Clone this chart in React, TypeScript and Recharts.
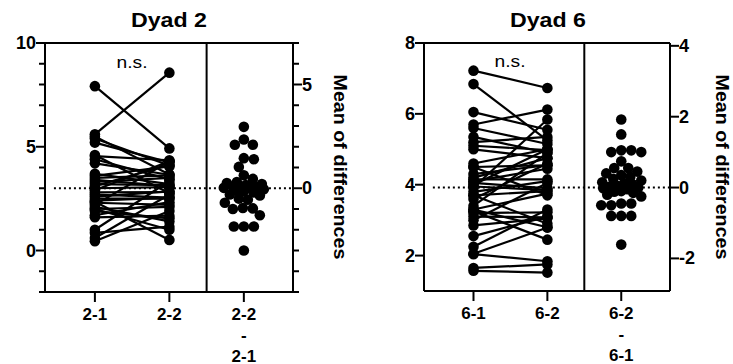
import React from 'react';
import { ComposedChart, Scatter, XAxis, YAxis, ReferenceLine } from 'recharts';

const FONT = '"Liberation Sans", Arial, Helvetica, sans-serif';

// Dyad 2 – paired values (2-1 -> 2-2) and the scatter of differences
const dyad2Before = [5.6, 7.92, 1.0, 0.6, 2.2, 0.45, 2.9, 3.1, 1.7, 3.6, 0.85, 2.6, 3.3, 2.4, 3.5, 2.0, 1.6, 3.0,
  2.8, 2.5, 3.2, 2.3, 2.7, 4.55, 3.4, 1.9, 3.7, 4.2, 2.1, 5.2, 4.4, 2.0, 5.4, 4.6, 5.5, 2.35];
const dyad2After = [8.57, 4.92, 3.35, 2.7, 4.3, 1.9, 4.3, 4.13, 2.33, 4.05, 1.15, 2.85, 3.5, 2.55, 3.62, 2.1, 1.68, 3.05,
  2.82, 2.5, 3.15, 2.2, 2.55, 4.35, 3.1, 1.55, 3.2, 3.65, 1.4, 4.25, 3.43, 1.0, 4.1, 2.76, 3.66, 0.51];
const dyad2Diffs = [2.96, 2.35, 2.1, 2.1, 1.45, 1.4, 1.03, 0.63, 0.45, 0.3, 0.25, 0.2, 0.15, 0.12, 0.1, 0.08, 0.05, 0.02,
  0, -0.05, -0.1, -0.15, -0.2, -0.3, -0.35, -0.5, -0.55, -0.7, -0.95, -0.97, -1.0, -1.3, -1.84, -1.84, -1.84, -3.0];
const dyad2Categories = [['2-1'], ['2-2'], ['2-2', '-', '2-1']];
const dyad2LeftTicks = [-2, -1, 0, 1, 2, 3, 4, 5, 6, 7, 8, 9, 10];
const dyad2LeftLabels = [0, 5, 10];
const dyad2RightTicks = [-5, -4, -3, -2, -1, 0, 1, 2, 3, 4, 5, 6, 7];
const dyad2RightLabels = [0, 5];

// Dyad 6
const dyad6Before = [7.22, 6.84, 3.92, 6.05, 5.7, 3.4, 3.0, 2.25, 4.0, 3.6, 2.05, 4.2, 2.55, 3.3, 4.6, 4.1, 3.8, 4.3,
  2.85, 5.2, 3.7, 1.65, 4.5, 3.2, 4.15, 3.1, 1.57, 3.95, 5.1, 4.05, 2.04, 5.0, 5.35, 5.6, 3.3, 3.25, 4.5, 3.7];
const dyad6After = [6.73, 5.25, 5.84, 5.55, 6.12, 4.9, 4.05, 3.3, 5.0, 4.6, 2.79, 4.75, 3.1, 3.75, 5.0, 4.45, 4.1, 4.55,
  3.05, 5.35, 3.82, 1.75, 4.55, 3.22, 4.15, 3.08, 1.52, 3.85, 4.98, 3.9, 1.84, 4.75, 4.9, 5.15, 2.8, 2.45, 3.7, 2.9];
const dyad6Diffs = [1.92, 1.5, 1.05, 1.05, 1.0, 1.0, 0.74, 0.55, 0.55, 0.45, 0.4, 0.35, 0.3, 0.25, 0.2, 0.15, 0.12, 0.1,
  0.05, 0.02, 0, -0.02, -0.05, -0.1, -0.12, -0.15, -0.2, -0.25, -0.45, -0.45, -0.5, -0.5, -0.8, -0.8, -0.8, -1.61];
const dyad6Categories = [['6-1'], ['6-2'], ['6-2', '-', '6-1']];
const dyad6LeftTicks = [2, 4, 6, 8];
const dyad6LeftLabels = [2, 4, 6, 8];
const dyad6RightTicks = [-2, 0, 2, 4];
const dyad6RightLabels = [-2, 0, 2, 4];

const X_DOMAIN: [number, number] = [0.33, 3.66];
const DOT_R = 5.3;
const SWARM_HALF = 20; // px either side of the column

// beeswarm: spread close values sideways, overlapping once the column is full
function swarm(values: number[], pxPerX: number, pxPerY: number) {
  const order = values.map((_, i) => i).sort((a, b) => values[b] - values[a]);
  const placed: { x: number; y: number }[] = [];
  const out: { x: number; y: number }[] = new Array(values.length);
  const minD = 2 * DOT_R - 1;
  for (const i of order) {
    const py = values[i] * pxPerY;
    let best = 0;
    let bestGap = -Infinity;
    for (let k = 0; k <= SWARM_HALF * 2; k++) {
      const cand = k === 0 ? 0 : k % 2 === 1 ? Math.ceil(k / 2) : -k / 2;
      let gap = Infinity;
      for (const p of placed) gap = Math.min(gap, Math.hypot(p.x - cand, p.y - py));
      if (gap >= minD) { best = cand; bestGap = gap; break; }
      if (gap > bestGap + 0.5) { bestGap = gap; best = cand; }
    }
    placed.push({ x: best, y: py });
    out[i] = { x: 3 + best / pxPerX, y: values[i] };
  }
  return out;
}

const Dot = (p: any) => <circle cx={p.cx} cy={p.cy} r={DOT_R} fill="#000" />;

interface PanelProps {
  width: number;
  plot: { left: number; right: number; top: number; bottom: number };
  leftDomain: [number, number];
  mean: number;
  leftTicks: number[];
  leftLabels: number[];
  rightTicks: number[];
  rightLabels: number[];
  before: number[];
  after: number[];
  diffs: number[];
  categories: string[][];
}

function Panel(props: PanelProps) {
  const { width, plot, leftDomain, mean, before, after, diffs, categories } = props;
  const height = 364;
  const rightDomain: [number, number] = [leftDomain[0] - mean, leftDomain[1] - mean];
  const pxPerX = (plot.right - plot.left) / (X_DOMAIN[1] - X_DOMAIN[0]);
  const pxPerY = (plot.bottom - plot.top) / (leftDomain[1] - leftDomain[0]);
  const swarmData = swarm(diffs, pxPerX, pxPerY);
  const axisLine = { stroke: '#000', strokeWidth: 2 };

  const LeftTick = (t: any) => {
    const v = t.payload.value;
    const major = props.leftLabels.includes(v);
    return (
      <g>
        <line x1={plot.left - (major ? 9 : 6)} x2={plot.left} y1={t.y} y2={t.y} stroke="#000" strokeWidth={2} />
        {major && (
          <text x={plot.left - 9} y={t.y} textAnchor="end" dominantBaseline="central"
            fontFamily={FONT} fontWeight="bold" fontSize={18} fill="#000">{v}</text>
        )}
      </g>
    );
  };

  const RightTick = (t: any) => {
    const v = t.payload.value;
    const major = props.rightLabels.includes(v);
    return (
      <g>
        <line x1={plot.right} x2={plot.right + (major ? 9 : 6)} y1={t.y} y2={t.y} stroke="#000" strokeWidth={2} />
        {major && (
          <text x={plot.right + 9} y={t.y} textAnchor="start" dominantBaseline="central"
            fontFamily={FONT} fontWeight="bold" fontSize={18} fill="#000">{v}</text>
        )}
      </g>
    );
  };

  const BottomTick = (t: any) => {
    const lines = categories[Math.round(t.payload.value) - 1] || [];
    return (
      <g>
        <line x1={t.x} x2={t.x} y1={plot.bottom} y2={plot.bottom + 10} stroke="#000" strokeWidth={2} />
        {lines.map((s, i) => (
          <text key={i} x={t.x} y={plot.bottom + 22 + i * 21} textAnchor="middle" dominantBaseline="central"
            fontFamily={FONT} fontWeight="bold" fontSize={17} fill="#000">{s}</text>
        ))}
      </g>
    );
  };

  return (
    <ComposedChart width={width} height={height} margin={{ top: plot.top, right: 0, bottom: 0, left: 0 }}>
      <XAxis xAxisId="x" type="number" dataKey="x" domain={X_DOMAIN} ticks={[1, 2, 3]} interval={0}
        height={height - plot.bottom} axisLine={axisLine} tickLine={false} tick={BottomTick} allowDataOverflow />
      <YAxis yAxisId="left" orientation="left" type="number" dataKey="y" domain={leftDomain} ticks={props.leftTicks}
        interval={0} width={plot.left} axisLine={axisLine} tickLine={false} tick={LeftTick} allowDataOverflow />
      <YAxis yAxisId="right" orientation="right" type="number" dataKey="y" domain={rightDomain} ticks={props.rightTicks}
        interval={0} width={width - plot.right} axisLine={axisLine} tickLine={false} tick={RightTick} allowDataOverflow />
      <ReferenceLine xAxisId="x" yAxisId="left" y={leftDomain[1]} stroke="#000" strokeWidth={2} />
      <ReferenceLine xAxisId="x" yAxisId="left" x={2.5} stroke="#000" strokeWidth={2} />
      <ReferenceLine xAxisId="x" yAxisId="right" segment={[{ x: 0.45, y: 0 }, { x: X_DOMAIN[1], y: 0 }]}
        stroke="#000" strokeWidth={2} strokeDasharray="2 3" />
      {before.map((b, i) => (
        <Scatter key={i} xAxisId="x" yAxisId="left" data={[{ x: 1, y: b }, { x: 2, y: after[i] }]}
          line={{ stroke: '#000', strokeWidth: 2.2 }} shape={Dot} isAnimationActive={false} />
      ))}
      <Scatter xAxisId="x" yAxisId="right" data={swarmData} shape={Dot} isAnimationActive={false} />
    </ComposedChart>
  );
}

const textStyle = { fontFamily: FONT, fill: '#000' };

export default function App() {
  return (
    <div style={{ position: 'absolute', left: 0, top: 0, width: 733, height: 364, background: '#fff', overflow: 'hidden' }}>
      <div style={{ position: 'absolute', left: 0, top: 0 }}>
        <Panel width={366} plot={{ left: 45, right: 293, top: 43, bottom: 292 }} leftDomain={[-2, 10]} mean={3}
          leftTicks={dyad2LeftTicks} leftLabels={dyad2LeftLabels} rightTicks={dyad2RightTicks} rightLabels={dyad2RightLabels}
          before={dyad2Before} after={dyad2After} diffs={dyad2Diffs} categories={dyad2Categories} />
      </div>
      <div style={{ position: 'absolute', left: 366, top: 0 }}>
        <Panel width={367} plot={{ left: 58, right: 304, top: 43, bottom: 291 }} leftDomain={[1, 8]} mean={3.92}
          leftTicks={dyad6LeftTicks} leftLabels={dyad6LeftLabels} rightTicks={dyad6RightTicks} rightLabels={dyad6RightLabels}
          before={dyad6Before} after={dyad6After} diffs={dyad6Diffs} categories={dyad6Categories} />
      </div>
      <svg width={733} height={364} style={{ position: 'absolute', left: 0, top: 0, pointerEvents: 'none' }}>
        <text x={169} y={27} textAnchor="middle" fontSize={20} fontWeight="bold" textLength={76}
          lengthAdjust="spacingAndGlyphs" style={textStyle}>Dyad 2</text>
        <text x={548} y={27} textAnchor="middle" fontSize={20} fontWeight="bold" textLength={76}
          lengthAdjust="spacingAndGlyphs" style={textStyle}>Dyad 6</text>
        <text x={132} y={68} textAnchor="middle" fontSize={16} textLength={31}
          lengthAdjust="spacingAndGlyphs" style={textStyle}>n.s.</text>
        <text x={510} y={67} textAnchor="middle" fontSize={16} textLength={31}
          lengthAdjust="spacingAndGlyphs" style={textStyle}>n.s.</text>
        <text x={340} y={167} transform="rotate(90 340 167)" textAnchor="middle" dominantBaseline="central"
          fontSize={18.5} fontWeight="bold" textLength={185} lengthAdjust="spacingAndGlyphs" style={textStyle}>
          Mean of differences</text>
        <text x={722} y={167} transform="rotate(90 722 167)" textAnchor="middle" dominantBaseline="central"
          fontSize={18} fontWeight="bold" textLength={185} lengthAdjust="spacingAndGlyphs" style={textStyle}>
          Mean of differences</text>
      </svg>
    </div>
  );
}
